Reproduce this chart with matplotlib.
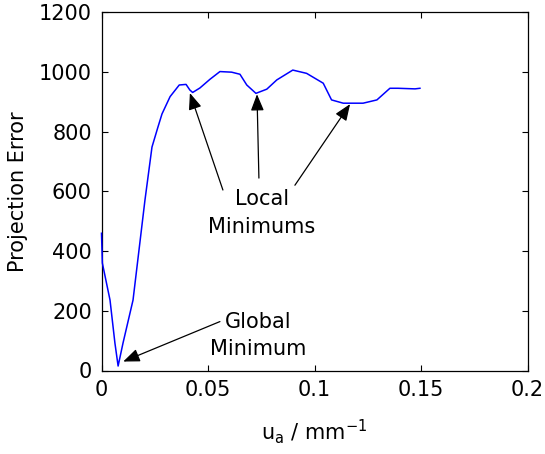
import matplotlib
matplotlib.use("Agg")
import matplotlib.pyplot as plt

# curve (u_a in 1/mm, projection error)
ua = [0.0, 0.0004, 0.004, 0.0063, 0.0078, 0.0101, 0.0148, 0.0204, 0.0237,
      0.0265, 0.0284, 0.0322, 0.0365, 0.0397, 0.0415, 0.0428, 0.0462,
      0.0509, 0.0556, 0.0611, 0.065, 0.0682, 0.0725, 0.0776, 0.0823,
      0.0898, 0.0963, 0.1041, 0.108, 0.1135, 0.1228, 0.1293, 0.1354,
      0.1392, 0.1472, 0.1495]
err = [460, 360, 236, 92, 15, 92, 236, 571, 749,
       816, 860, 918, 957, 959, 940, 932, 947,
       976, 1002, 1000, 993, 957, 929, 943, 974,
       1007, 996, 963, 907, 896, 896, 907, 946,
       946, 944, 946]

# annotation targets (tip points) and text anchors
local_tips = [(0.0415, 930), (0.073, 926), (0.1167, 893)]
local_tails = [(0.057, 605), (0.0739, 645), (0.0908, 621)]
local_text_pos = (0.0754, 528)
global_tip = (0.0102, 30)
global_tail = (0.0556, 164)
global_text_pos = (0.0735, 117)

plt.rcParams["font.family"] = "DejaVu Sans"
FS = 15

fig = plt.figure(figsize=(5.45, 4.54), dpi=100)
ax = fig.add_axes([101.5 / 545, 1 - 370.5 / 454, 426 / 545, 358 / 454])

ax.plot(ua, err, color="#0000ff", linewidth=1.1, zorder=3, clip_on=False)

ax.set_xlim(0, 0.2)
ax.set_ylim(0, 1200)
ax.set_xticks([0, 0.05, 0.1, 0.15, 0.2])
ax.set_xticklabels(["0", "0.05", "0.1", "0.15", "0.2"])
ax.set_yticks(range(0, 1201, 200))
ax.tick_params(direction="in", top=True, right=True, length=4, width=0.8,
               labelsize=FS, pad=7)
for s in ax.spines.values():
    s.set_linewidth(0.9)

ax.set_ylabel("Projection Error", fontsize=FS, labelpad=8)
ax.set_xlabel(r"u$_\mathregular{a}$ / mm$^\mathregular{-1}$", fontsize=FS,
              labelpad=12)

arrow = dict(arrowstyle="-|>,head_length=1.0,head_width=0.4",
             color="black", lw=0.9, shrinkA=0, shrinkB=0)

for tip, tail in zip(local_tips, local_tails):
    ax.annotate("", xy=tip, xytext=tail, arrowprops=arrow)
ax.text(*local_text_pos, "Local\nMinimums", fontsize=FS, ha="center",
        va="center", linespacing=1.45)

ax.annotate("", xy=global_tip, xytext=global_tail, arrowprops=arrow)
ax.text(*global_text_pos, "Global\nMinimum", fontsize=FS, ha="center",
        va="center", linespacing=1.45)

fig.savefig("out.png", dpi=100)
